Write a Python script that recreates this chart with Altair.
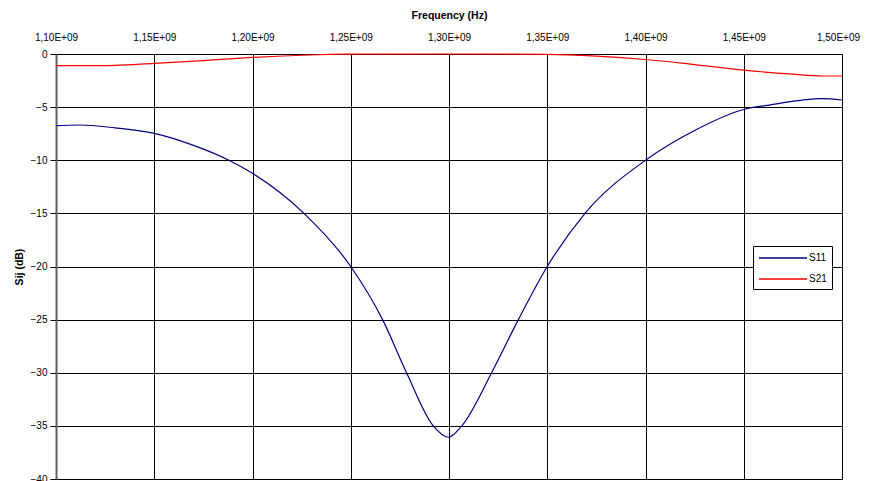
import altair as alt
import pandas as pd

# S11 (reflection)
freq_s11 = [1.100, 1.112, 1.130, 1.150, 1.170, 1.188, 1.200, 1.2262, 1.250, 1.2662,
            1.2784, 1.292, 1.2997, 1.3065, 1.3217, 1.3353, 1.350, 1.3692, 1.400, 1.426,
            1.4504, 1.462, 1.490, 1.500]
s11 = [-6.75, -6.68, -6.95, -7.47, -8.6, -10.0, -11.23, -15.0, -20.0, -25.0,
       -30.0, -35.0, -36.07, -35.0, -30.0, -25.0, -20.0, -15.0, -10.0, -7.1,
       -5.2, -4.83, -4.2, -4.33]

# S21 (transmission)
freq_s21 = [1.100, 1.120, 1.150, 1.175, 1.200, 1.225, 1.250, 1.300, 1.350, 1.375,
            1.400, 1.425, 1.450, 1.475, 1.490, 1.500]
s21 = [-1.1, -1.1, -0.88, -0.62, -0.32, -0.12, -0.02, 0.0, -0.03, -0.2,
       -0.52, -1.0, -1.52, -1.9, -2.07, -2.07]

series_names = ["S11", "S21"]
series_colors = ["#000080", "#FF0000"]
x_ticks_ghz = [1.10, 1.15, 1.20, 1.25, 1.30, 1.35, 1.40, 1.45, 1.50]
y_ticks = [0, -5, -10, -15, -20, -25, -30, -35, -40]

rows = []
for f, v in zip(freq_s11, s11):
    rows.append({"freq": f * 1e9, "val": v, "series": "S11"})
for f, v in zip(freq_s21, s21):
    rows.append({"freq": f * 1e9, "val": v, "series": "S21"})
df = pd.DataFrame(rows)

FONT = "Liberation Sans"

chart = alt.Chart(df).mark_line(interpolate="monotone", strokeWidth=1.2).encode(
    x=alt.X("freq:Q",
            scale=alt.Scale(domain=[1.1e9, 1.5e9], nice=False, zero=False),
            axis=alt.Axis(orient="top", values=[t * 1e9 for t in x_ticks_ghz],
                          labelExpr="replace(format(datum.value/1e9, '.2f'), '.', ',') + 'E+09'",
                          title="Frequency (Hz)", titleFont=FONT, titleFontSize=10.5,
                          titleFontWeight="bold", titleColor="black", titlePadding=12,
                          labelFont=FONT, labelFontSize=10, labelColor="black",
                          labelPadding=12, ticks=False, grid=True, gridColor="black",
                          gridWidth=1, domainColor="black", domainWidth=1,
                          labelOffset=alt.ExprRef("datum.value > 1.49e9 ? -4 : 0"),
                          labelOverlap=False, labelFlush=False)),
    y=alt.Y("val:Q",
            scale=alt.Scale(domain=[-40, 0], nice=False, zero=False),
            axis=alt.Axis(values=y_ticks, format="d", title="Sij (dB)",
                          titleFont=FONT, titleFontSize=10.5, titleFontWeight="bold",
                          titleColor="black", titlePadding=6,
                          labelFont=FONT, labelFontSize=10, labelColor="black",
                          labelPadding=3, ticks=True, tickSize=6, tickColor="black",
                          grid=True, gridColor="black", gridWidth=1,
                          domainColor="#606060", domainWidth=2, labelOverlap=False,
                          labelFlush=False)),
    color=alt.Color("series:N",
                    scale=alt.Scale(domain=series_names, range=series_colors),
                    legend=alt.Legend(orient="none", legendX=697, legendY=192,
                                      title=None, strokeColor="black", fillColor="white",
                                      padding=5, symbolType="M-1,0H7", symbolSize=144,
                                      symbolStrokeWidth=1.5, labelOffset=37,
                                      rowPadding=9, labelFont=FONT, labelFontSize=10,
                                      labelColor="black")),
).properties(
    width=786, height=425,
    autosize=alt.AutoSizeParams(type="none"),
    padding={"left": 48, "top": 46, "right": 20, "bottom": 2},
).configure_view(
    stroke="#808080", strokeWidth=2
).configure(background="white")

chart.save("out.html", embed_options={"renderer": "svg", "actions": False})
